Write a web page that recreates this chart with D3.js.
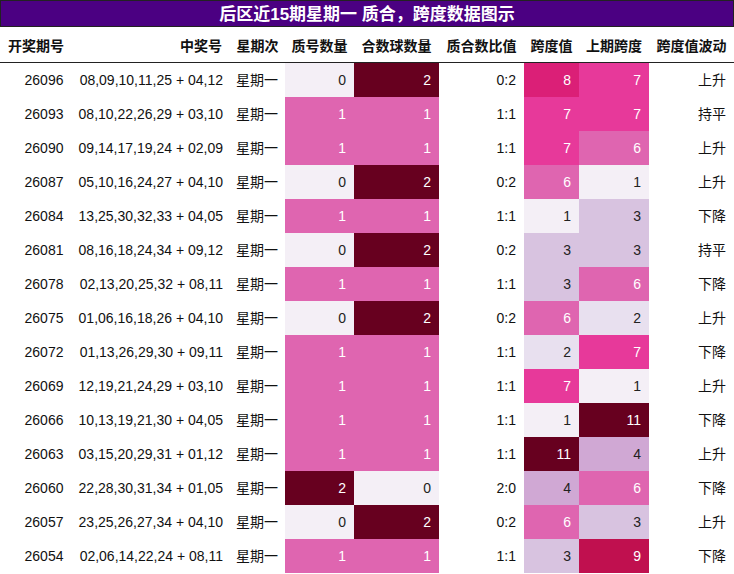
<!DOCTYPE html><html><head><meta charset="utf-8"><script src="https://cdn.jsdelivr.net/npm/d3@7"></script>
<style>body{margin:0;background:#fff}text{font-family:"Liberation Sans","Noto Sans CJK SC",sans-serif}</style></head><body><svg id="c" width="734" height="574"></svg><script>
const ids=["26096","26093","26090","26087","26084","26081","26078","26075","26072","26069","26066","26063","26060","26057","26054"];
const nums=["08,09,10,11,25 + 04,12","08,10,22,26,29 + 03,10","09,14,17,19,24 + 02,09","05,10,16,24,27 + 04,10","13,25,30,32,33 + 04,05","08,16,18,24,34 + 09,12","02,13,20,25,32 + 08,11","01,06,16,18,26 + 04,10","01,13,26,29,30 + 09,11","12,19,21,24,29 + 03,10","10,13,19,21,30 + 04,05","03,15,20,29,31 + 01,12","22,28,30,31,34 + 01,05","23,25,26,27,34 + 04,10","02,06,14,22,24 + 08,11"];
const prime=[0,1,1,0,1,0,1,0,1,1,1,1,2,0,1];
const comp=[2,1,1,2,1,2,1,2,1,1,1,1,0,2,1];
const span=[8,7,7,6,1,3,3,6,2,7,1,11,4,6,3];
const prev=[7,7,6,1,3,3,6,2,7,1,11,4,6,3,9];
const trend=["上升","持平","上升","上升","下降","持平","下降","上升","下降","上升","下降","上升","下降","上升","下降"];
const headers=["开奖期号","中奖号","星期次","质号数量","合数球数量","质合数比值","跨度值","上期跨度","跨度值波动"];
const svg=d3.select("#c");
const cols=[[0,72],[72,230],[230,285],[285,354],[354,439],[439,524],[524,579],[579,649],[649,734]];
const cnt=d3.scaleOrdinal().domain([0,1,2]).range(["#f4eff6","#df65b0","#67001f"]);
const sp=d3.scaleOrdinal().domain([1,2,3,4,5,6,7,8,9,10,11]).range(["#f4eff6","#e8e0ef","#d8c3e0","#d0a8d4","#d98bc5","#df65b0","#e7399a","#db1f77","#c0104f","#8c0836","#67001f"]);
const y=d3.scaleBand().domain(d3.range(15)).range([63,573]);
svg.append("rect").attr("x",0.5).attr("y",0.5).attr("width",733).attr("height",26).attr("fill","#4b0082").attr("stroke","#222");
svg.append("text").attr("x",367).attr("y",20).attr("text-anchor","middle").attr("fill","#fff").attr("font-size",17).attr("font-weight","bold").text("后区近15期星期一 质合，跨度数据图示");
headers.forEach((h,i)=>svg.append("text").attr("x",i==1?222:(cols[i][0]+cols[i][1])/2).attr("y",51).attr("text-anchor",i==1?"end":"middle").attr("font-size",14).attr("font-weight","bold").attr("fill","#111").text(h));
svg.append("line").attr("x1",0).attr("x2",734).attr("y1",62.5).attr("y2",62.5).attr("stroke","#222");
const lum=c=>{const r=d3.rgb(c);return (0.299*r.r+0.587*r.g+0.114*r.b)};
ids.forEach((id,i)=>{
 const yy=y(i),h=y.bandwidth(),ty=yy+h/2+5;
 const cell=(ci,val,scale)=>{const c=scale(val);svg.append("rect").attr("x",cols[ci][0]).attr("y",yy).attr("width",cols[ci][1]-cols[ci][0]).attr("height",h).attr("fill",c);
  svg.append("text").attr("x",cols[ci][1]-8).attr("y",ty).attr("text-anchor","end").attr("font-size",14).attr("fill",lum(c)<170?"#fff":"#222").text(val);};
 const t=(x,s,a)=>svg.append("text").attr("x",x).attr("y",ty).attr("text-anchor",a).attr("font-size",14).attr("fill","#111").text(s);
 t(44,id,"middle");t(223,nums[i],"end");t(257,"星期一","middle");
 cell(3,prime[i],cnt);cell(4,comp[i],cnt);
 t(516,prime[i]+":"+comp[i],"end");
 cell(6,span[i],sp);cell(7,prev[i],sp);
 t(726,trend[i],"end");
});
</script></body></html>
